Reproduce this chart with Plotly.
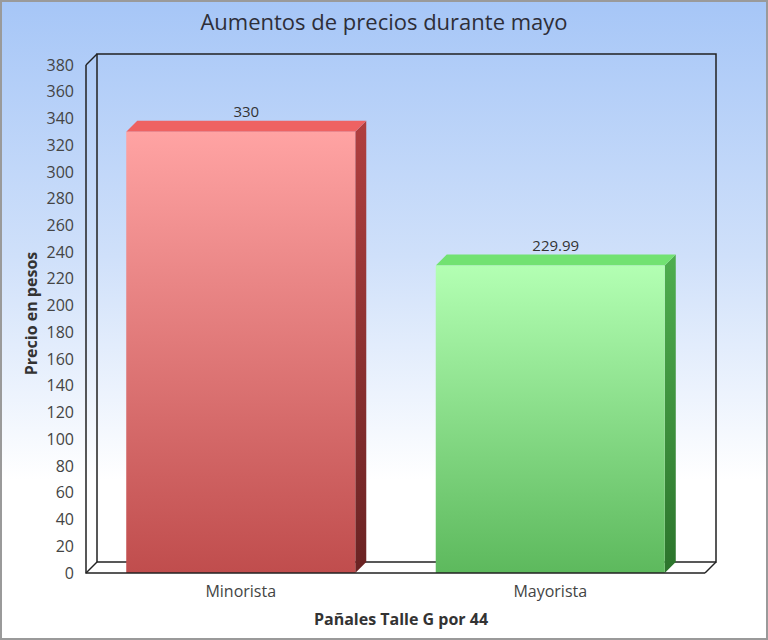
import base64
import plotly.graph_objects as go

# ---------------- data ----------------
categories = ["Minorista", "Mayorista"]
values = [330, 229.99]
value_labels = ["330", "229.99"]
y_tick_values = list(range(0, 381, 20))
y_tick_labels = [str(v) for v in y_tick_values]
title_text = "Aumentos de precios durante mayo"
x_title = "Pañales Talle G por 44"
y_title = "Precio en pesos"

# ---------------- styling ----------------
front_colors = [("#c04d4d", "#ffa3a3"), ("#5db95d", "#b3ffb3")]   # (bottom, top)
top_colors = ["#ee6262", "#72e272"]
side_colors = [("#6a2323", "#b03f3f"), ("#2c742c", "#4fae4f")]    # (bottom, top)
frame_color = "#222222"
text_color = "#333333"
FONT = "Open Sans"

W, H = 768, 640
ML, MR, MT, MB = 83, 49, 51, 64
pad = 3
depth_px = 11
front_h_px = 508
bar_width = 0.74

plot_w = W - ML - MR
plot_h = H - MT - MB
y_top_tick = y_tick_values[-1]
ppu_y = front_h_px / y_top_tick
ppu_x = (plot_w - depth_px - 2 * pad) / len(categories)
dx = depth_px / ppu_x
dy = depth_px / ppu_y
x_left = -0.5
x_right = len(categories) - 0.5
x_range = [x_left - pad / ppu_x, x_right + dx + pad / ppu_x]
y_range = [-pad / ppu_y, y_top_tick + dy + pad / ppu_y]

fig = go.Figure()

# background gradient (whole page)
svg = ('<svg xmlns="http://www.w3.org/2000/svg" width="100" height="100" viewBox="0 0 100 100" '
       'preserveAspectRatio="none"><defs><linearGradient id="g" x1="0" y1="0" x2="0" y2="1">'
       '<stop offset="0" stop-color="#a6c6f7"/><stop offset="0.4" stop-color="#cfe0fa"/>'
       '<stop offset="0.75" stop-color="#ffffff"/><stop offset="1" stop-color="#ffffff"/>'
       '</linearGradient></defs><rect width="100" height="100" fill="url(#g)"/></svg>')
svg_uri = "data:image/svg+xml;base64," + base64.b64encode(svg.encode()).decode()
fig.add_layout_image(dict(source=svg_uri, xref="paper", yref="paper",
                          x=-ML / plot_w, y=1 + MT / plot_h,
                          sizex=W / plot_w, sizey=H / plot_h,
                          xanchor="left", yanchor="top", sizing="stretch", layer="below"))

line_style = dict(color=frame_color, width=1.5)

def add_line(xs, ys):
    fig.add_trace(go.Scatter(x=xs, y=ys, mode="lines", line=line_style,
                             hoverinfo="skip", showlegend=False))

# floor (white) and back wall
fig.add_trace(go.Scatter(x=[x_left, x_right, x_right + dx, x_left + dx, x_left],
                         y=[0, 0, dy, dy, 0], mode="lines", fill="toself",
                         fillcolor="#ffffff", line=dict(width=0), hoverinfo="skip", showlegend=False))
add_line([x_left + dx, x_right + dx, x_right + dx, x_left + dx, x_left + dx],
         [dy, dy, y_top_tick + dy, y_top_tick + dy, dy])
add_line([x_left, x_left + dx], [y_top_tick, y_top_tick + dy])
add_line([x_left, x_left + dx], [0, dy])
add_line([x_right, x_right + dx], [0, dy])

# 3D bars
for i, (cat, v) in enumerate(zip(categories, values)):
    x0 = i - bar_width / 2
    x1 = i + bar_width / 2
    fb, ft = front_colors[i]
    sb, st = side_colors[i]
    # side face
    fig.add_trace(go.Scatter(x=[x1, x1 + dx, x1 + dx, x1, x1], y=[0, dy, v + dy, v, 0],
                             mode="lines", fill="toself", line=dict(width=0),
                             fillgradient=dict(type="vertical", colorscale=[[0, sb], [1, st]]),
                             hoverinfo="skip", showlegend=False))
    # top face
    fig.add_trace(go.Scatter(x=[x0, x1, x1 + dx, x0 + dx, x0], y=[v, v, v + dy, v + dy, v],
                             mode="lines", fill="toself", line=dict(width=0),
                             fillcolor=top_colors[i], hoverinfo="skip", showlegend=False))
    # front face
    fig.add_trace(go.Scatter(x=[x0, x1, x1, x0, x0], y=[0, 0, v, v, 0],
                             mode="lines", fill="toself", line=dict(width=0),
                             fillgradient=dict(type="vertical", colorscale=[[0, fb], [1, ft]]),
                             name=cat, hovertemplate=f"{cat}: {value_labels[i]}<extra></extra>",
                             showlegend=False))

# front edges on top
add_line([x_left, x_left, x_right], [y_top_tick, 0, 0])

# value labels
fig.add_trace(go.Scatter(x=[i + dx / 2 for i in range(len(categories))],
                         y=[v + dy for v in values], mode="text", text=value_labels,
                         textposition="top center", cliponaxis=False,
                         textfont=dict(family=FONT, size=15, color=text_color),
                         hoverinfo="skip", showlegend=False))

# outer border
fig.add_shape(type="rect", xref="paper", yref="paper",
              x0=-ML / plot_w, x1=1 + MR / plot_w, y0=-MB / plot_h, y1=1 + MT / plot_h,
              line=dict(color="#9a9a9a", width=4), layer="above")

fig.update_layout(
    width=W, height=H,
    margin=dict(l=ML, r=MR, t=MT, b=MB, pad=0),
    paper_bgcolor="#ffffff", plot_bgcolor="rgba(0,0,0,0)",
    font=dict(family=FONT, color=text_color, size=15),
    title=dict(text=title_text, x=0.5, xref="container", y=1 - 22 / H, yref="container",
               yanchor="middle", xanchor="center",
               font=dict(family=FONT, size=22, color="#2e2e38")),
    xaxis=dict(range=x_range, tickvals=list(range(len(categories))), ticktext=categories,
               showgrid=False, zeroline=False, showline=False, ticks="",
               ticklabelstandoff=4, tickfont=dict(size=16, color="#444444"),
               title=dict(text=f"<b>{x_title}</b>", standoff=12,
                          font=dict(size=16, color=text_color))),
    yaxis=dict(range=y_range, tickvals=y_tick_values, ticktext=y_tick_labels,
               showgrid=False, zeroline=False, showline=False, ticks="",
               ticklabelstandoff=8, tickfont=dict(size=16, color="#444444"),
               title=dict(text=f"<b>{y_title}</b>", standoff=4,
                          font=dict(size=16, color=text_color))),
)

fig.write_html("out.html", config={"displayModeBar": False},
               post_script="document.body.style.margin='0';")
